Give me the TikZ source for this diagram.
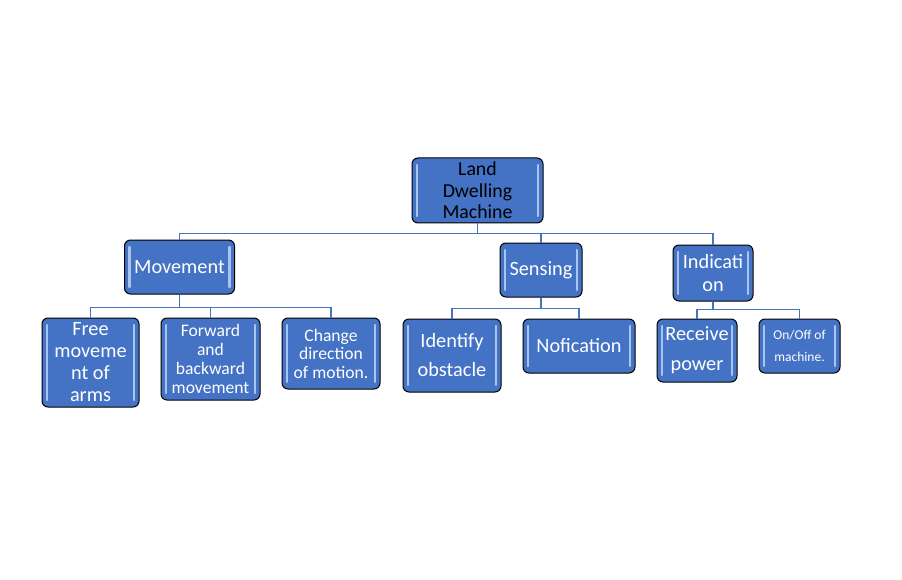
\documentclass[tikz,border=0pt]{standalone}
\usepackage{fontspec}
\setmainfont{Carlito}
\definecolor{boxblue}{HTML}{4472C4}
\definecolor{bevel}{HTML}{A9C4EE}
\definecolor{linkblue}{HTML}{4A73BE}
\begin{document}
\begin{tikzpicture}[x=1pt,y=-1pt,
  boxnode/.style={draw=black, line width=1pt, rounded corners=6pt, fill=boxblue,
    text=white, align=center, inner sep=0pt, anchor=center,
    path picture={
      \draw[bevel, line width=2.5pt, line cap=round]
        ([xshift=5pt,yshift=-7pt]path picture bounding box.north west) --
        ([xshift=5pt,yshift=7pt]path picture bounding box.south west);
      \draw[bevel, line width=2.5pt, line cap=round]
        ([xshift=-5pt,yshift=-7pt]path picture bounding box.north east) --
        ([xshift=-5pt,yshift=7pt]path picture bounding box.south east);
    }},
  dim/.style 2 args={minimum width=#1pt, minimum height=#2pt},
  big/.style={font=\fontsize{20.3}{22}\selectfont},
  conn/.style={draw=linkblue, line width=1.8pt}]
\useasboundingbox (0,0) rectangle (902,580);

\node[boxnode, dim={131}{65}, text=black, font=\fontsize{19.8}{21.5}\selectfont] (root) at (477.5,190.5) {Land\\Dwelling\\Machine};

\node[boxnode, dim={110}{54}, big] (mov) at (179.5,267) {Movement};
\node[boxnode, dim={82}{54}, big] (sen) at (541,270) {Sensing};
\node[boxnode, dim={80}{56}, font=\fontsize{20.3}{23}\selectfont] (ind) at (713,273) {Indicati\\on};

\node[boxnode, dim={97}{89}, big] (free) at (90.5,362.5) {Free\\moveme\\nt of\\arms};
\node[boxnode, dim={99}{82}, font=\fontsize{17.6}{19}\selectfont] (fwd) at (210.5,359) {Forward\\and\\backward\\movement};
\node[boxnode, dim={98}{71}, font=\fontsize{17.6}{18.5}\selectfont] (chg) at (331,353.5) {Change\\direction\\of motion.};

\node[boxnode, dim={98}{73}, font=\fontsize{20.3}{29}\selectfont] (idf) at (452,355.5) {Identify\\obstacle};
\node[boxnode, dim={112}{54}, big] (nof) at (579,346) {Nofication};

\node[boxnode, dim={80}{63}, font=\fontsize{20.3}{30}\selectfont] (rcv) at (697,350.5) {Receive\\power};
\node[boxnode, dim={81}{54}, font=\fontsize{13.5}{22}\selectfont] (onf) at (799.5,346) {On/Off of\\machine.};

% connectors
\draw[conn] (root.south) -- ++(0,10) -| (mov.north);
\draw[conn] (root.south) -- ++(0,10) -| (sen.north);
\draw[conn] (root.south) -- ++(0,10) -| (ind.north);

\draw[conn] (mov.south) -- ++(0,13) -| (free.north);
\draw[conn] (mov.south) -- ++(0,13) -| (fwd.north);
\draw[conn] (mov.south) -- ++(0,13) -| (chg.north);

\draw[conn] (sen.south) -- ++(0,11) -| (idf.north);
\draw[conn] (sen.south) -- ++(0,11) -| (nof.north);

\draw[conn] (ind.south) -- ++(0,8) -| (rcv.north);
\draw[conn] (ind.south) -- ++(0,8) -| (onf.north);
\end{tikzpicture}
\end{document}
